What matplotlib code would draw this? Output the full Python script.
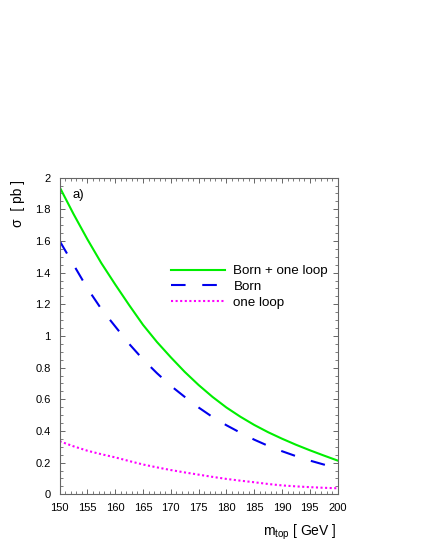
import numpy as np
import matplotlib
matplotlib.use("Agg")
import matplotlib.pyplot as plt
from matplotlib.ticker import MultipleLocator, FormatStrFormatter

plt.rcParams['font.family'] = ['Liberation Sans', 'DejaVu Sans']

# top mass in GeV
m_top = [150, 152.5, 155, 157.5, 160, 162.5, 165, 167.5, 170, 172.5, 175,
         177.5, 180, 182.5, 185, 187.5, 190, 192.5, 195, 197.5, 200]

# cross sections in pb
sigma_total = [1.94, 1.77, 1.61, 1.46, 1.325, 1.195, 1.07, 0.962, 0.865, 0.773, 0.69,
               0.615, 0.548, 0.49, 0.438, 0.392, 0.351, 0.313, 0.278, 0.245, 0.213]
sigma_born = [1.60, 1.45, 1.30, 1.17, 1.06, 0.95, 0.852, 0.765, 0.685, 0.615, 0.548,
              0.488, 0.436, 0.389, 0.345, 0.306, 0.272, 0.241, 0.213, 0.188, 0.166]
sigma_loop = [0.335, 0.303, 0.275, 0.253, 0.233, 0.21, 0.188, 0.17, 0.153, 0.138, 0.124,
              0.11, 0.097, 0.086, 0.076, 0.065, 0.056, 0.05, 0.045, 0.041, 0.038]

labels = ["Born + one loop", "Born", "one loop"]

fig = plt.figure(figsize=(4.29, 5.55), dpi=100)
ax = fig.add_axes([0.139, 0.1094, 0.648, 0.5706])

ax.plot(m_top, sigma_total, color='#00ee00', lw=1.5, label=labels[0])
ax.plot(m_top, sigma_born, color='#0000ee', lw=1.5, linestyle=(0, (7, 8)), label=labels[1])
ax.plot(m_top, sigma_loop, color='#ff00ff', lw=1.5, linestyle=(0, (1, 1.2)), label=labels[2])

ax.set_xlim(150, 200)
ax.set_ylim(0, 2)
ax.xaxis.set_major_locator(MultipleLocator(5))
ax.xaxis.set_minor_locator(MultipleLocator(1))
ax.yaxis.set_major_locator(MultipleLocator(0.2))
ax.yaxis.set_minor_locator(MultipleLocator(0.05))
ax.yaxis.set_major_formatter(FormatStrFormatter('%g'))

ax.tick_params(which='both', direction='in', top=True, right=True,
               color='#666666', labelsize=8, pad=6.5)
ax.tick_params(which='major', length=3.6, width=0.7)
ax.tick_params(which='minor', length=2, width=0.6)
for s in ax.spines.values():
    s.set_color('#666666')
    s.set_linewidth(0.8)

ax.text(0.045, 0.965, "a)", transform=ax.transAxes, fontsize=9.5, va='top', ha='left')

fig.text(18 / 429, 1 - 180 / 555, "σ  [ pb ]", rotation=90,
         fontsize=10, ha='center', va='top')
fig.text(337 / 429, 1 - 532 / 555, r"m$_{\mathregular{top}}$ [ GeV ]",
         fontsize=10, ha='right', va='center')

ax.legend(loc='upper left', bbox_to_anchor=(0.40, 0.724), frameon=False,
          fontsize=9.6, handlelength=4.1, handletextpad=0.6, labelspacing=0.25,
          borderpad=0, borderaxespad=0)

fig.savefig("out.png", dpi=100)
